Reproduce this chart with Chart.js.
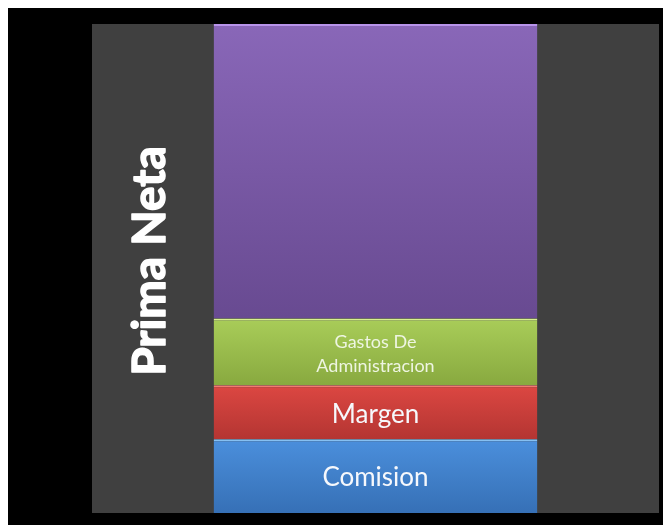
<!DOCTYPE html>
<html>
<head>
<meta charset="utf-8">
<script src="https://cdn.jsdelivr.net/npm/chart.js@4.4.1/dist/chart.umd.min.js"></script>
<style>
  html, body { margin: 0; padding: 0; background: #ffffff; }
  #wrap { width: 663px; height: 525px; }
</style>
</head>
<body>
<div id="wrap"><canvas id="prima"></canvas></div>
<script>
// datos del grafico (de abajo hacia arriba)
var categorias = ['Prima Neta'];
var segmentos = ['Comision', 'Margen', 'Gastos De Administracion', 'Resto'];
var etiquetas = [['Comision'], ['Margen'], ['Gastos De', 'Administracion'], []];
var valores = [15.1, 11.0, 13.7, 60.2];

// colores: arriba, abajo, borde claro
var coloresArriba = ['#4b8fdc', '#dc4742', '#a9cd59', '#8967b8'];
var coloresAbajo = ['#3670b6', '#b43532', '#88a93f', '#684a91'];
var coloresBorde = ['#86c0f2', '#f27a70', '#d8f08e', '#b894ea'];

function degradado(ctx, i) {
  var chart = ctx.chart;
  var y = chart.scales.y;
  if (!chart.chartArea || !y) return coloresArriba[i];
  var base = 0;
  for (var k = 0; k < i; k++) base += valores[k];
  var y0 = y.getPixelForValue(base + valores[i]);
  var y1 = y.getPixelForValue(base);
  var g = chart.ctx.createLinearGradient(0, y0, 0, y1);
  g.addColorStop(0, coloresArriba[i]);
  g.addColorStop(1, coloresAbajo[i]);
  return g;
}

var datasets = segmentos.map(function(nombre, i) {
  return {
    label: nombre,
    data: [valores[i]],
    backgroundColor: function(ctx) { return degradado(ctx, i); },
    borderColor: coloresBorde[i],
    borderWidth: {top: 2, left: 0, right: 0, bottom: 0},
    borderSkipped: false,
    barPercentage: 1,
    categoryPercentage: 0.571
  };
});

// fondo negro con bordes blancos y panel gris
var fondo = {
  id: 'fondo',
  beforeDraw: function(chart) {
    var c = chart.ctx, a = chart.chartArea;
    c.save();
    c.fillStyle = '#000000';
    c.fillRect(8, 8, chart.width - 8, chart.height - 8);
    c.fillStyle = '#404040';
    c.fillRect(a.left, a.top, a.right - a.left, a.bottom - a.top);
    c.restore();
  }
};

// textos dentro de las barras y titulo girado
var textos = {
  id: 'textos',
  afterDatasetsDraw: function(chart) {
    var c = chart.ctx;
    c.save();
    c.textAlign = 'center';
    c.textBaseline = 'middle';
    chart.data.datasets.forEach(function(ds, i) {
      var lineas = etiquetas[i];
      if (!lineas.length) return;
      var el = chart.getDatasetMeta(i).data[0];
      var cy = (el.y + el.base) / 2;
      if (lineas.length > 1) {
        c.font = '18px Lato';
        c.fillStyle = '#eef5e2';
        c.fillText(lineas[0], el.x, cy - 10);
        c.fillText(lineas[1], el.x, cy + 14);
      } else {
        c.font = '26px Lato';
        c.fillStyle = '#f6f8fc';
        c.fillText(lineas[0], el.x, cy + 2);
      }
    });
    c.translate(165, 261);
    c.rotate(-Math.PI / 2);
    c.textBaseline = 'alphabetic';
    c.font = 'bold 46px Lato';
    c.fillStyle = '#ffffff';
    c.strokeStyle = '#ffffff';
    c.lineWidth = 1.5;
    c.lineJoin = 'round';
    c.fillText(categorias[0], 0, 0);
    c.strokeText(categorias[0], 0, 0);
    c.restore();
  }
};

new Chart(document.getElementById('prima'), {
  type: 'bar',
  data: { labels: categorias, datasets: datasets },
  options: {
    responsive: true,
    maintainAspectRatio: false,
    animation: false,
    layout: { padding: { left: 92, top: 24, right: 4, bottom: 12 } },
    plugins: { legend: { display: false }, tooltip: { enabled: false } },
    scales: {
      x: { stacked: true, display: false },
      y: { stacked: true, display: false, min: 0, max: 100 }
    }
  },
  plugins: [fondo, textos]
});
</script>
</body>
</html>
